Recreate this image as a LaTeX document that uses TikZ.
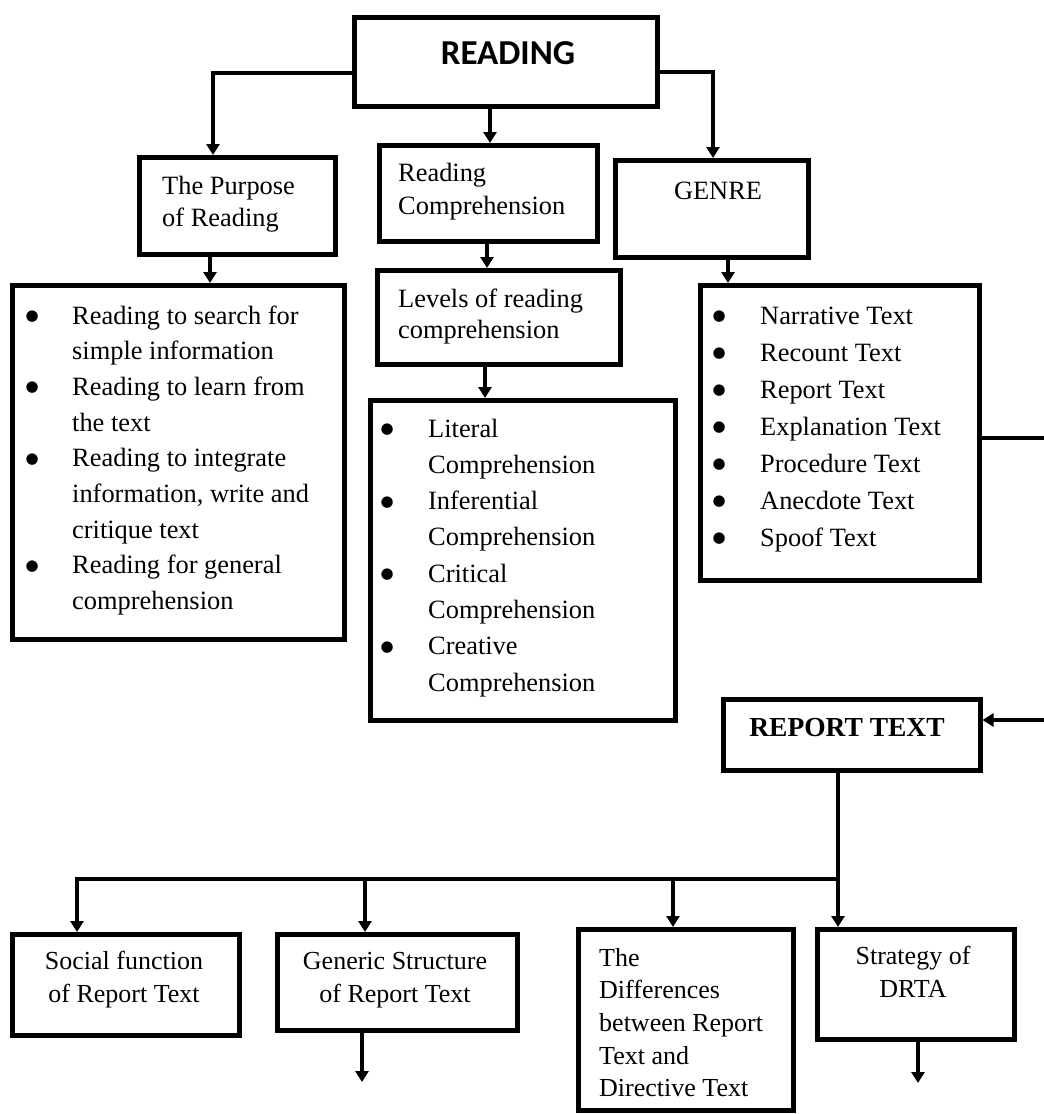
\documentclass[tikz,border=0pt]{standalone}
\usepackage{fontspec}
\setmainfont{Liberation Serif}
\newfontfamily\calibfont{Carlito}
\newfontfamily\dejavufont{DejaVu Sans}
\newcommand\bul{\raisebox{3.5pt}{\dejavufont\fontsize{15}{15}\selectfont ●}}
\usetikzlibrary{arrows.meta}
\begin{document}
\begin{tikzpicture}[x=1pt,y=-1pt,
  box/.style={draw, line width=4.5pt, rectangle, inner sep=0pt, anchor=north west},
  txt/.style={inner sep=0pt, font=\fontsize{26.4}{32}\selectfont},
  link/.style={line width=4.5pt},
  arr/.style={line width=4.5pt, -{Triangle[length=11pt,width=13pt]}},
]
\useasboundingbox (0,0) rectangle (1044,1114);
\fill[white] (0,0) rectangle (1044,1114);

% boxes
\node[box, minimum width=303pt, minimum height=89pt] (reading) at (352,15) {};
\node[box, minimum width=196pt, minimum height=97pt] (purpose) at (137,155) {};
\node[box, minimum width=218pt, minimum height=96pt] (rc) at (377,143) {};
\node[box, minimum width=193pt, minimum height=97pt] (genre) at (613,158) {};
\node[box, minimum width=243pt, minimum height=94pt] (levels) at (375,268) {};
\node[box, minimum width=332pt, minimum height=354pt] (plist) at (10,283) {};
\node[box, minimum width=305pt, minimum height=320pt] (llist) at (368,398) {};
\node[box, minimum width=279pt, minimum height=295pt] (glist) at (698,283) {};
\node[box, minimum width=257pt, minimum height=71pt] (report) at (721,697) {};
\node[box, minimum width=227pt, minimum height=101pt] (social) at (10,932) {};
\node[box, minimum width=240pt, minimum height=96pt] (generic) at (275,932) {};
\node[box, minimum width=215pt, minimum height=181pt] (diff) at (576,927) {};
\node[box, minimum width=197pt, minimum height=110pt] (strategy) at (815,927) {};

% texts
\node[txt, anchor=base, font=\calibfont\bfseries\fontsize{35}{40}\selectfont] (readingT) at (508,64) {READING};
\node[txt, anchor=base west] (purposeT) at (162,194) {\begin{tabular}[t]{@{}l@{}}The Purpose\\of Reading\end{tabular}};
\node[txt, anchor=base west, font=\fontsize{26.4}{33}\selectfont] (rcT) at (398,181) {\begin{tabular}[t]{@{}l@{}}Reading\\Comprehension\end{tabular}};
\node[txt, anchor=base] (genreT) at (718,199) {GENRE};
\node[txt, anchor=base west, font=\fontsize{26.4}{31}\selectfont] (levelsT) at (398,307) {\begin{tabular}[t]{@{}l@{}}Levels of reading\\comprehension\end{tabular}};

\node[txt, anchor=base west, font=\fontsize{26.4}{35.7}\selectfont] (plistT) at (25.4,324) {\begin{tabular}[t]{@{}p{46.6pt}@{}l@{}}
\bul & Reading to search for\\
 & simple information\\
\bul & Reading to learn from\\
 & the text\\
\bul & Reading to integrate\\
 & information, write and\\
 & critique text\\
\bul & Reading for general\\
 & comprehension
\end{tabular}};

\node[txt, anchor=base west, font=\fontsize{26.4}{36.3}\selectfont] (llistT) at (380.4,437) {\begin{tabular}[t]{@{}p{47.6pt}@{}l@{}}
\bul & Literal\\
 & Comprehension\\
\bul & Inferential\\
 & Comprehension\\
\bul & Critical\\
 & Comprehension\\
\bul & Creative\\
 & Comprehension
\end{tabular}};

\node[txt, anchor=base west, font=\fontsize{26.4}{37}\selectfont] (glistT) at (712.4,324) {\begin{tabular}[t]{@{}p{47.6pt}@{}l@{}}
\bul & Narrative Text\\
\bul & Recount Text\\
\bul & Report Text\\
\bul & Explanation Text\\
\bul & Procedure Text\\
\bul & Anecdote Text\\
\bul & Spoof Text
\end{tabular}};

\node[txt, anchor=base, font=\bfseries\fontsize{27.5}{33}\selectfont] (reportT) at (847,736) {REPORT TEXT};

\node[txt, anchor=base, font=\fontsize{26}{33}\selectfont] (socialT) at (124,969) {\begin{tabular}[t]{@{}c@{}}Social function\\of Report Text\end{tabular}};
\node[txt, anchor=base, font=\fontsize{26}{33}\selectfont] (genericT) at (395,969) {\begin{tabular}[t]{@{}c@{}}Generic Structure\\of Report Text\end{tabular}};
\node[txt, anchor=base west, font=\fontsize{26}{32.7}\selectfont] (diffT) at (599,966) {\begin{tabular}[t]{@{}l@{}}The\\Differences\\between Report\\Text and\\Directive Text\end{tabular}};
\node[txt, anchor=base, font=\fontsize{26}{33}\selectfont] (strategyT) at (913,964) {\begin{tabular}[t]{@{}c@{}}Strategy of\\DRTA\end{tabular}};

% connectors
\draw[arr] (reading.west |- 0,73) -| (purpose.north -| 213,0);
\draw[arr] (reading.south -| 490,0) -- (rc.north -| 490,0);
\draw[arr] (reading.east |- 0,72) -| (genre.north -| 713,0);
\draw[arr] (purpose.south -| 210,0) -- (plist.north -| 210,0);
\draw[arr] (rc.south -| 487,0) -- (levels.north -| 487,0);
\draw[arr] (levels.south -| 485,0) -- (llist.north -| 485,0);
\draw[arr] (genre.south -| 728,0) -- (glist.north -| 728,0);
\draw[arr] (glist.east |- 0,438) -- (1062,438) -- (1062,720) -- (report.east |- 0,720);

\coordinate (bus) at (838,879);
\draw[link] (report.south -| bus) -- (bus);
\draw[arr] (bus) -| (social.north -| 77,0);
\draw[arr] (bus) -- (strategy.north -| bus);
\draw[arr] (365,879) -- (generic.north -| 365,0);
\draw[arr] (673,879) -- (diff.north -| 673,0);

\coordinate (gend) at (362,1082);
\draw[arr] (generic.south -| gend) -- (gend);
\coordinate (send) at (918,1083);
\draw[arr] (strategy.south -| send) -- (send);
\end{tikzpicture}
\end{document}
